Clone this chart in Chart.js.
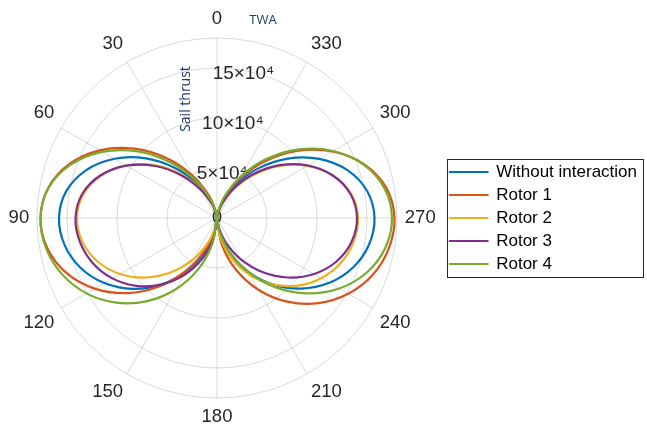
<!DOCTYPE html>
<html>
<head>
<meta charset="utf-8">
<script src="https://cdn.jsdelivr.net/npm/chart.js@4.4.1/dist/chart.umd.min.js"></script>
<style>
  html, body { margin: 0; padding: 0; background: #ffffff; }
  canvas { display: block; }
</style>
</head>
<body>
<canvas id="c" width="647" height="428"></canvas>
<script>
// ---------------- data (sail thrust in units of 10^4) ----------------
const twa = [0, 10, 20, 30, 40, 50, 60, 70, 80, 90, 100, 110, 120, 130, 140, 150, 160, 170,
             180, 190, 200, 210, 220, 230, 240, 250, 260, 270, 280, 290, 300, 310, 320, 330, 340, 350];
const angleTickLabels = [0, 30, 60, 90, 120, 150, 180, 210, 240, 270, 300, 330];
const rTickValues = [5, 10, 15];
const rMax = 18;
const seriesNames = ['Without interaction', 'Rotor 1', 'Rotor 2', 'Rotor 3', 'Rotor 4'];

const withoutInteraction = [0, 0.48, 1.85, 3.95, 6.53, 9.27, 11.85, 13.95, 15.32, 15.8, 15.48, 14.53, 13.01, 11.03, 8.70, 6.20, 3.71, 1.49,
                            0, 1.48, 3.70, 6.18, 8.67, 10.99, 12.97, 14.48, 15.43, 15.75, 15.27, 13.91, 11.81, 9.24, 6.51, 3.94, 1.84, 0.48];
const rotor1 = [0, 0.69, 2.43, 4.90, 7.79, 10.78, 13.53, 15.73, 17.16, 17.65, 17.24, 16.03, 14.12, 11.68, 8.90, 6.03, 3.35, 1.17,
                0, 2.59, 5.45, 8.28, 10.92, 13.24, 15.15, 16.58, 17.45, 17.75, 17.21, 15.67, 13.31, 10.42, 7.33, 4.44, 2.08, 0.54];
const rotor2 = [0, 0.42, 1.64, 3.50, 5.78, 8.22, 10.50, 12.36, 13.58, 14.0, 13.67, 12.71, 11.20, 9.26, 7.06, 4.78, 2.65, 0.93,
                0, 2.05, 4.33, 6.58, 8.67, 10.52, 12.04, 13.17, 13.86, 14.1, 13.65, 12.37, 10.43, 8.06, 5.57, 3.29, 1.48, 0.36];
const rotor3 = [0, 0.36, 1.49, 3.30, 5.59, 8.09, 10.46, 12.42, 13.70, 14.15, 13.91, 13.21, 12.08, 10.55, 8.70, 6.60, 4.35, 2.06,
                0, 0.93, 2.65, 4.78, 7.06, 9.26, 11.20, 12.71, 13.67, 14.0, 13.58, 12.36, 10.50, 8.22, 5.78, 3.50, 1.64, 0.42];
const rotor4 = [0, 0.53, 2.07, 4.41, 7.29, 10.36, 13.24, 15.58, 17.12, 17.65, 17.36, 16.48, 15.07, 13.17, 10.85, 8.23, 5.42, 2.57,
                0, 1.27, 3.50, 6.19, 9.02, 11.73, 14.11, 15.94, 17.10, 17.5, 17.01, 15.60, 13.41, 10.69, 7.73, 4.85, 2.40, 0.69];

// ---------------- styling ----------------
const colors = ['#0072BD', '#D95319', '#EDB120', '#7E2F8E', '#77AC30'];
const gridColor = 'rgba(38,38,38,0.17)';
const textColor = '#262626';
const noteColor = '#1F3864';
const tickSpaces = { 5: 2, 10: 6, 15: 10 };
const FONT = '"Liberation Sans", Arial, Helvetica, sans-serif';

Chart.defaults.font.family = FONT;
Chart.defaults.color = textColor;

// radar runs clockwise, TWA increases counter-clockwise: reorder the categories
const order = twa.map((_, i) => (twa.length - i) % twa.length);
const labels = order.map(k => String(twa[k]));
const toRadar = arr => order.map(k => arr[k]);
const allSeries = [withoutInteraction, rotor1, rotor2, rotor3, rotor4];

const datasets = allSeries.map((arr, i) => ({
  label: seriesNames[i],
  data: toRadar(arr),
  borderColor: colors[i],
  backgroundColor: colors[i],
  borderWidth: 2.2,
  pointRadius: 0,
  fill: false,
  tension: 0.35,
  order: allSeries.length - i   // last series drawn on top
}));

const isMajorIndex = idx => angleTickLabels.includes(Number(labels[idx]));

const annotate = {
  id: 'annotate',
  beforeDatasetsDraw(chart) {
    const s = chart.scales.r, ctx = chart.ctx;
    ctx.save();
    ctx.font = '18px ' + FONT;
    ctx.fillStyle = textColor;
    ctx.textAlign = 'center';
    ctx.textBaseline = 'middle';
    ctx.fillText('0', s.xCenter, s.yCenter);
    ctx.restore();
  },
  afterDraw(chart) {
    const s = chart.scales.r, ctx = chart.ctx;
    ctx.save();
    ctx.fillStyle = noteColor;
    ctx.font = '14px "Open Sans", sans-serif';
    ctx.textAlign = 'center';
    ctx.textBaseline = 'middle';
    ctx.translate(s.xCenter - 31, s.yCenter - 119);
    ctx.rotate(-Math.PI / 2);
    ctx.fillText('Sail thrust', 0, 0);
    ctx.restore();

    ctx.save();
    ctx.fillStyle = noteColor;
    ctx.font = '13px "Open Sans", sans-serif';
    ctx.textAlign = 'center';
    ctx.textBaseline = 'middle';
    ctx.fillText('TWA', s.xCenter + 46, 20);
    ctx.restore();

    const lg = chart.legend;
    const hb = lg.legendHitBoxes;
    if (hb && hb.length) {
      const left = Math.min(...hb.map(h => h.left)) - 3;
      const right = Math.min(chart.width - 2, Math.max(...hb.map(h => h.left + h.width)) + 6);
      const top = Math.min(...hb.map(h => h.top)) - 5;
      const bottom = Math.max(...hb.map(h => h.top + h.height)) + 4;
      ctx.save();
      ctx.strokeStyle = textColor;
      ctx.lineWidth = 1;
      ctx.strokeRect(Math.round(left) + 0.5, Math.round(top) + 0.5, Math.round(right - left), Math.round(bottom - top));
      ctx.restore();
    }
  }
};

new Chart(document.getElementById('c'), {
  type: 'radar',
  data: { labels, datasets },
  plugins: [annotate],
  options: {
    responsive: false,
    animation: false,
    events: [],
    layout: { padding: { top: 8, left: 2, right: 0, bottom: 0 } },
    elements: { line: { borderJoinStyle: 'round' } },
    plugins: {
      tooltip: { enabled: false },
      legend: {
        position: 'right',
        align: 'center',
        labels: {
          boxWidth: 38,
          boxHeight: 0,
          padding: 6,
          color: '#000000',
          font: { size: 17 },
          sort: (a, b) => a.datasetIndex - b.datasetIndex
        }
      }
    },
    scales: {
      r: {
        min: 0,
        max: rMax,
        startAngle: 0,
        grid: { circular: true, color: gridColor, lineWidth: 1 },
        angleLines: {
          display: true,
          color: c => isMajorIndex(c.index) ? gridColor : 'rgba(0,0,0,0)',
          lineWidth: c => isMajorIndex(c.index) ? 1 : 0
        },
        pointLabels: {
          display: true,
          padding: -1.7,
          color: textColor,
          font: { size: 18.5 },
          callback: (lbl, idx) => isMajorIndex(idx) ? lbl : ''
        },
        ticks: {
          stepSize: 5,
          display: true,
          showLabelBackdrop: false,
          backdropPadding: 0,
          color: textColor,
          font: { size: 19, lineHeight: '6px' },
          callback: v => rTickValues.includes(v) ? ['', ' '.repeat(tickSpaces[v]) + v + '×10⁴'] : ''
        }
      }
    }
  }
});
</script>
</body>
</html>
